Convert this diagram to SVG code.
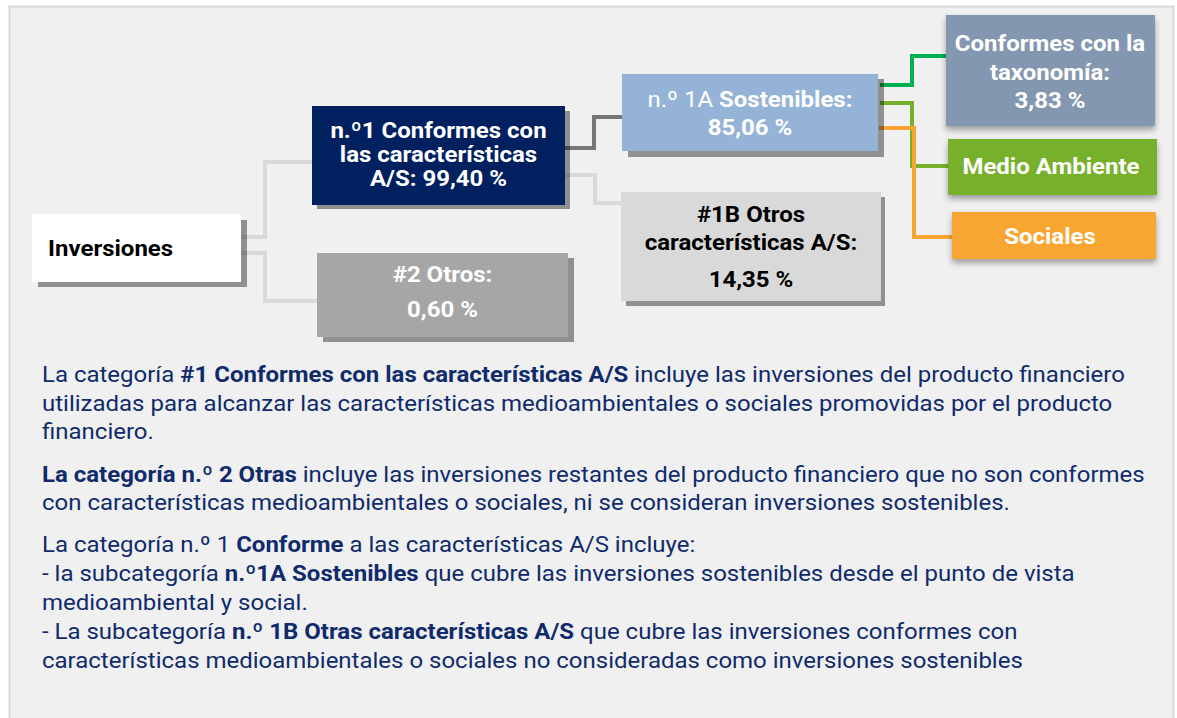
<svg xmlns="http://www.w3.org/2000/svg" width="1177" height="718" viewBox="0 0 1177 718">
<defs>
<style>
text{font-family:Roboto,"Liberation Sans",sans-serif;}
.nt{font-size:24px;font-weight:bold;text-anchor:middle;fill:#ffffff;}
.dk{fill:#000000;}
.body{font-size:24px;fill:#0f2b6b;}
.b{font-weight:bold;}
.sh{fill:#000000;fill-opacity:0.4;}
.ln{fill:none;stroke-width:4;stroke-linejoin:miter;}
</style>
<filter id="soft" x="-10%" y="-20%" width="120%" height="150%">
<feDropShadow dx="0" dy="4" stdDeviation="3" flood-color="#000000" flood-opacity="0.35"/>
</filter>
</defs>
<rect x="0" y="0" width="1177" height="718" fill="#ffffff"/>
<rect x="9.5" y="6.5" width="1164" height="760" fill="#f0f0f0" stroke="#d9d9d9" stroke-width="2"/>

<g id="connectors">
<polyline class="ln" stroke="#d9d9d9" points="241,237 265,237 265,162 312,162"/>
<polyline class="ln" stroke="#d9d9d9" points="241,253 265,253 265,301 317,301"/>
<polyline class="ln" stroke="#767676" points="565,148 594,148 594,117 622,117"/>
<polyline class="ln" stroke="#d9d9d9" points="565,175 595,175 595,203 621,203"/>
<polyline class="ln" stroke="#00b050" points="880,85 912,85 912,56 946,56"/>
<polyline class="ln" stroke="#77b02a" points="880,103 912,103 912,166 948,166"/>
<polyline class="ln" stroke="#f9a533" points="879,128 914,128 914,237 952,237"/>
</g>

<g id="inversiones">
<rect class="sh" x="38" y="220" width="209" height="67"/>
<rect x="32" y="214" width="209" height="68" fill="#ffffff"/>
<g transform="scale(1,0.92)"><text x="48" y="278.3" style="font-size:24px;font-weight:bold" fill="#000000">Inversiones</text></g>
</g>

<g id="n1">
<rect class="sh" x="317" y="111" width="253" height="98"/>
<rect x="312" y="106" width="253" height="99" fill="#002060"/>
<g transform="scale(1,0.92)">
<text class="nt" x="438.5" y="150">n.º1 Conformes con</text>
<text class="nt" x="438.5" y="176.1">las características</text>
<text class="nt" x="438.5" y="202.2">A/S: 99,40 %</text>
</g>
</g>

<g id="n2">
<rect class="sh" x="323" y="258" width="251" height="84"/>
<rect x="317" y="253" width="251" height="84" fill="#a6a6a6"/>
<g transform="scale(1,0.92)">
<text class="nt" x="442.5" y="306.5">#2 Otros:</text>
<text class="nt" x="442.5" y="344.6">0,60 %</text>
</g>
</g>

<g id="n1a">
<rect class="sh" x="628" y="79" width="256" height="78"/>
<rect x="622" y="74" width="256" height="77" fill="#95b3d7"/>
<g transform="scale(1,0.92)">
<text class="nt" x="750" y="116.3"><tspan font-weight="normal">n.º 1A </tspan>Sostenibles:</text>
<text class="nt" x="750" y="146.7">85,06 %</text>
</g>
</g>

<g id="n1b">
<rect class="sh" x="626" y="197" width="259" height="109"/>
<rect x="621" y="192" width="260" height="109" fill="#d9d9d9"/>
<g transform="scale(1,0.92)">
<text class="nt dk" x="751" y="241.3">#1B Otros</text>
<text class="nt dk" x="751" y="271.7">características A/S:</text>
<text class="nt dk" x="751" y="312">14,35 %</text>
</g>
</g>

<g id="taxonomia">
<rect x="946" y="15" width="209" height="111" fill="#8497b0" filter="url(#soft)"/>
<g transform="scale(1,0.92)">
<text class="nt" x="1050" y="55.4">Conformes con la</text>
<text class="nt" x="1050" y="87">taxonomía:</text>
<text class="nt" x="1050" y="117.4">3,83 %</text>
</g>
</g>

<g id="medio">
<rect x="948" y="139" width="209" height="56" fill="#77b02a" filter="url(#soft)"/>
<g transform="scale(1,0.92)"><text class="nt" x="1051" y="189.1">Medio Ambiente</text></g>
</g>

<g id="sociales">
<rect x="952" y="212" width="204" height="47" fill="#f9a533" filter="url(#soft)"/>
<g transform="scale(1,0.92)"><text class="nt" x="1050" y="265.2">Sociales</text></g>
</g>

<g id="texto" transform="scale(1,0.92)">
<text class="body" x="42" y="415.2">La categoría <tspan class="b">#1 Conformes con las características A/S</tspan> incluye las inversiones del producto financiero</text>
<text class="body" x="42" y="446.7">utilizadas para alcanzar las características medioambientales o sociales promovidas por el producto</text>
<text class="body" x="42" y="477.2">financiero.</text>
<text class="body" x="42" y="523.9"><tspan class="b">La categoría n.º 2 Otras</tspan> incluye las inversiones restantes del producto financiero que no son conformes</text>
<text class="body" x="42" y="554.3">con características medioambientales o sociales, ni se consideran inversiones sostenibles.</text>
<text class="body" x="42" y="600">La categoría n.º 1 <tspan class="b">Conforme</tspan> a las características A/S incluye:</text>
<text class="body" x="42" y="631.5">- la subcategoría <tspan class="b">n.º1A Sostenibles</tspan> que cubre las inversiones sostenibles desde el punto de vista</text>
<text class="body" x="42" y="663">medioambiental y social.</text>
<text class="body" x="42" y="694.6">- La subcategoría <tspan class="b">n.º 1B Otras características A/S</tspan> que cubre las inversiones conformes con</text>
<text class="body" x="42" y="726.1">características medioambientales o sociales no consideradas como inversiones sostenibles</text>
</g>
</svg>
